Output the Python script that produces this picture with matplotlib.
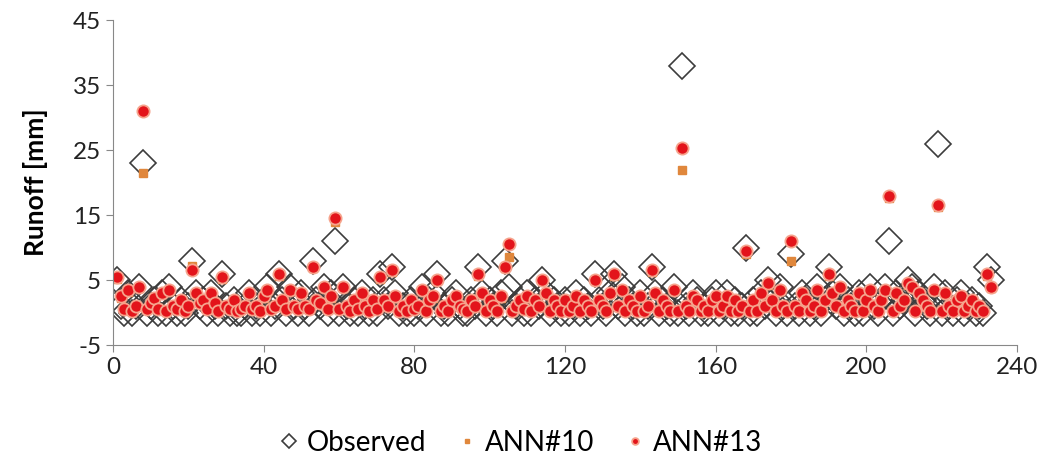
import matplotlib.pyplot as plt

plt.rcParams['font.family'] = ['Lato', 'DejaVu Sans']
plt.rcParams['axes.unicode_minus'] = False

# runoff per event, mm
observed = [5, 1, 0, 3, 0, 1, 4, 23, 0, 1,
            2, 0, 3, 0, 4, 1, 0, 2, 0, 1,
            8, 3, 1, 2, 0, 3, 1, 0, 6, 1,
            0, 2, 0, 0, 1, 3, 0, 1, 0, 2,
            4, 0, 1, 6, 2, 0, 4, 1, 0, 3,
            1, 0, 8, 2, 1, 4, 0, 3, 11, 0,
            4, 1, 0, 2, 0, 3, 1, 0, 2, 0,
            6, 2, 1, 7, 3, 0, 1, 0, 2, 0,
            1, 4, 0, 2, 3, 6, 0, 1, 0, 2,
            3, 1, 0, 0, 2, 1, 7, 3, 0, 2,
            1, 0, 3, 8, 4, 0, 1, 2, 0, 3,
            0, 2, 1, 5, 3, 0, 2, 1, 0, 2,
            0, 1, 3, 0, 2, 1, 0, 6, 2, 1,
            0, 3, 6, 1, 4, 0, 2, 1, 0, 3,
            0, 1, 7, 3, 0, 2, 1, 0, 4, 0,
            38, 1, 0, 3, 2, 0, 1, 0, 2, 3,
            0, 1, 3, 0, 2, 0, 1, 10, 0, 2,
            0, 3, 1, 5, 2, 0, 4, 1, 0, 9,
            1, 0, 3, 2, 0, 1, 4, 0, 2, 7,
            3, 1, 4, 0, 2, 1, 0, 3, 0, 2,
            4, 1, 0, 2, 4, 11, 0, 3, 1, 2,
            5, 4, 0, 3, 2, 1, 0, 4, 26, 0,
            3, 1, 0, 2, 3, 0, 1, 2, 0, 1,
            0, 7, 5]

ann10 = [5.2, 2.3, 0.6, 3.2, 0.3, 1.1, 3.8, 21.5, 0.6, 1.4,
         2.0, 0.6, 2.8, 0.3, 3.3, 1.1, 0.6, 1.9, 0.4, 1.1,
         7.2, 2.8, 1.4, 1.9, 0.6, 2.8, 1.4, 0.3, 5.2, 1.1,
         0.6, 1.9, 0.3, 0.6, 1.1, 2.8, 0.6, 1.1, 0.3, 2.3,
         3.3, 0.6, 1.1, 5.7, 1.9, 0.6, 3.3, 1.1, 0.6, 2.8,
         1.1, 0.6, 6.8, 1.9, 1.4, 3.8, 0.6, 2.3, 14.0, 0.6,
         3.8, 1.1, 0.4, 1.9, 0.6, 2.8, 1.1, 0.4, 1.9, 0.6,
         5.2, 1.9, 1.1, 6.2, 2.3, 0.4, 1.1, 0.4, 1.9, 0.6,
         1.1, 3.3, 0.4, 1.9, 2.3, 4.8, 0.4, 1.1, 0.4, 1.9,
         2.3, 1.1, 0.6, 0.4, 1.9, 1.1, 5.7, 2.8, 0.4, 1.9,
         1.1, 0.4, 2.3, 6.8, 8.5, 0.4, 1.1, 1.9, 0.6, 2.3,
         0.4, 1.9, 1.1, 4.8, 2.8, 0.4, 1.9, 1.1, 0.4, 1.9,
         0.4, 1.1, 2.3, 0.4, 1.9, 1.1, 0.4, 4.8, 1.9, 1.1,
         0.4, 2.8, 5.7, 1.1, 3.3, 0.4, 1.9, 1.1, 0.4, 2.3,
         0.4, 1.1, 6.2, 2.8, 0.4, 1.9, 1.1, 0.4, 3.3, 0.4,
         22.0, 1.1, 0.4, 2.3, 1.9, 0.4, 1.1, 0.4, 1.9, 2.3,
         0.4, 1.1, 2.3, 0.4, 1.9, 0.4, 1.1, 9.0, 0.4, 1.9,
         0.4, 2.8, 1.1, 4.3, 1.9, 0.4, 3.3, 1.1, 0.4, 8.0,
         1.1, 0.4, 2.8, 1.9, 0.4, 1.1, 3.3, 0.4, 1.9, 5.7,
         2.8, 1.1, 3.8, 0.4, 1.9, 1.1, 0.4, 2.8, 0.4, 1.9,
         3.3, 1.1, 0.4, 1.9, 3.3, 17.6, 0.4, 2.8, 1.1, 1.9,
         4.3, 3.8, 0.4, 2.8, 1.9, 1.1, 0.4, 3.3, 16.2, 0.4,
         2.8, 1.1, 0.4, 1.9, 2.3, 0.4, 1.1, 1.9, 0.4, 1.1,
         0.4, 5.7, 3.8]

ann13 = [5.5, 2.5, 0.5, 3.5, 0.2, 1.0, 4.0, 31.0, 0.5, 1.5,
         2.2, 0.5, 3.0, 0.2, 3.5, 1.0, 0.5, 2.0, 0.3, 1.0,
         6.5, 3.0, 1.5, 2.0, 0.5, 3.0, 1.5, 0.2, 5.5, 1.0,
         0.5, 2.0, 0.2, 0.5, 1.0, 3.0, 0.5, 1.0, 0.2, 2.5,
         3.5, 0.5, 1.0, 6.0, 2.0, 0.5, 3.5, 1.0, 0.5, 3.0,
         1.0, 0.5, 7.0, 2.0, 1.5, 4.0, 0.5, 2.5, 14.5, 0.5,
         4.0, 1.0, 0.3, 2.0, 0.5, 3.0, 1.0, 0.3, 2.0, 0.5,
         5.5, 2.0, 1.0, 6.5, 2.5, 0.3, 1.0, 0.3, 2.0, 0.5,
         1.0, 3.5, 0.3, 2.0, 2.5, 5.0, 0.3, 1.0, 0.3, 2.0,
         2.5, 1.0, 0.5, 0.3, 2.0, 1.0, 6.0, 3.0, 0.3, 2.0,
         1.0, 0.3, 2.5, 7.0, 10.5, 0.3, 1.0, 2.0, 0.5, 2.5,
         0.3, 2.0, 1.0, 5.0, 3.0, 0.3, 2.0, 1.0, 0.3, 2.0,
         0.3, 1.0, 2.5, 0.3, 2.0, 1.0, 0.3, 5.0, 2.0, 1.0,
         0.3, 3.0, 6.0, 1.0, 3.5, 0.3, 2.0, 1.0, 0.3, 2.5,
         0.3, 1.0, 6.5, 3.0, 0.3, 2.0, 1.0, 0.3, 3.5, 0.3,
         25.3, 1.0, 0.3, 2.5, 2.0, 0.3, 1.0, 0.3, 2.0, 2.5,
         0.3, 1.0, 2.5, 0.3, 2.0, 0.3, 1.0, 9.5, 0.3, 2.0,
         0.3, 3.0, 1.0, 4.5, 2.0, 0.3, 3.5, 1.0, 0.3, 11.0,
         1.0, 0.3, 3.0, 2.0, 0.3, 1.0, 3.5, 0.3, 2.0, 6.0,
         3.0, 1.0, 4.0, 0.3, 2.0, 1.0, 0.3, 3.0, 0.3, 2.0,
         3.5, 1.0, 0.3, 2.0, 3.5, 18.0, 0.3, 3.0, 1.0, 2.0,
         4.5, 4.0, 0.3, 3.0, 2.0, 1.0, 0.3, 3.5, 16.5, 0.3,
         3.0, 1.0, 0.3, 2.0, 2.5, 0.3, 1.0, 2.0, 0.3, 1.0,
         0.3, 6.0, 4.0]

events = list(range(1, len(observed) + 1))

fig = plt.figure(figsize=(10.5, 4.57), dpi=100)
ax = fig.add_axes([0.1076, 0.245, 0.861, 0.711])

ax.plot(events, observed, 'D', ms=13.5, mfc='none', mec='#3c3c3c', mew=1.2,
        label='Observed')
ax.plot(events, ann10, 's', ms=5.5, color='#e0873c', label='ANN#10')
ax.plot(events, ann13, 'o', ms=8.8, mfc='#e3141b', mec='#f6a38c', mew=1.3,
        label='ANN#13')

ax.set_xlim(0, 240)
ax.set_ylim(-5, 45)
ax.set_xticks(range(0, 241, 40))
ax.set_yticks(range(-5, 46, 10))
ax.tick_params(labelsize=17.5, colors='#222222', length=5, width=0.8)
ax.tick_params(color='#888888')
for s in ['top', 'right']:
    ax.spines[s].set_visible(False)
for s in ['left', 'bottom']:
    ax.spines[s].set_color('#888888')
ax.set_ylabel('Runoff [mm]', fontsize=19, fontweight='bold', labelpad=18)

ax.legend(loc='upper center', bbox_to_anchor=(0.447, -0.185), ncol=3,
          frameon=False, fontsize=20, handletextpad=0.05, columnspacing=0.85,
          handlelength=1.2, markerscale=0.55)

fig.savefig('out.png', dpi=100)
